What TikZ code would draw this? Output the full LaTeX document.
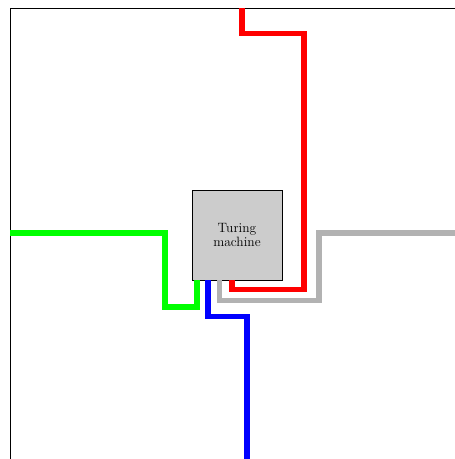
\documentclass[tikz,border=0pt]{standalone}
\usepackage{tikz}
\begin{document}
\begin{tikzpicture}[x=1pt,y=-1pt,
  tape/.style={line width=5.5pt,line join=miter},
  machine/.style={draw=black,fill=black!20,minimum width=90pt,minimum height=90pt,inner sep=0pt,line width=0.8pt,align=center,font=\fontsize{13.5}{14}\selectfont}]
\useasboundingbox (0,0) rectangle (455,459);
\coordinate (fa) at (10,459);
\coordinate (fb) at (10,8);
\coordinate (fc) at (455,8);
\draw[line width=1pt] (fa) -- (fb) -- (fc);
\node[machine] (tm) at (237,235) {Turing\\machine};
\coordinate (redend) at (242,8);
\coordinate (greenend) at (10,233);
\coordinate (grayend) at (455,233);
\coordinate (blueend) at (247,459);
\draw[tape,red] (redend) |- (304,33.5) |- (232,289.5) -- (232,0 |- tm.south);
\draw[tape,black!30] (grayend) -| (319,300.5) -| (219.5,0 |- tm.south);
\draw[tape,green] (greenend) -| (165,307) -| (197,0 |- tm.south);
\draw[tape,blue] (blueend) |- (208,316.5) -- (208,0 |- tm.south);
\end{tikzpicture}
\end{document}
